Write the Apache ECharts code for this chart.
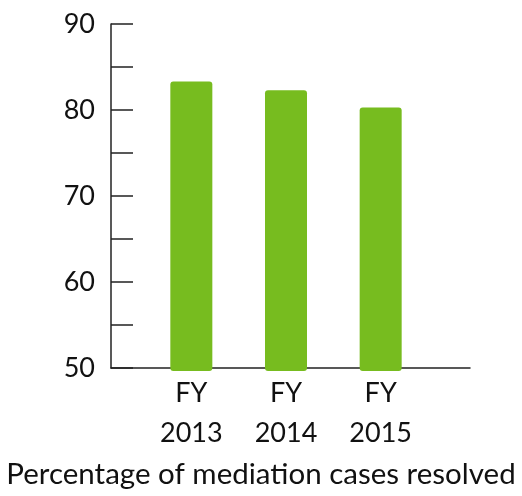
<!DOCTYPE html>
<html>
<head>
	<meta charset="UTF-8">
	<script type="text/javascript" src="https://cdn.jsdelivr.net/npm/echarts@6/dist/echarts.min.js"></script>
	<title></title>
	<style type="text/css">
		body{ margin:0; background:#fff; }
		#chart_box{ width:522px; height:496px; }
	</style>
</head>
<body>
<div id="chart_box"></div>
<script type="text/javascript">
// data
var categories = ['FY\n2013', 'FY\n2014', 'FY\n2015'];
var resolved = [83.3, 82.3, 80.3];
var yTicks = [50, 60, 70, 80, 90];
var titleText = 'Percentage of mediation cases resolved';

var chart = echarts.init(document.getElementById('chart_box'));
var font = 'Lato, "Open Sans", sans-serif';
option = {
	animation: false,
	title: {
		text: titleText,
		left: 'center',
		bottom: 2,
		textStyle: { fontFamily: font, fontSize: 29.5, fontWeight: 'normal', color: '#111' }
	},
	grid: [
		{ left: 111, right: 52, top: 24, bottom: 128 },
		{ left: 144, right: 94, top: 24, bottom: 125 }
	],
	xAxis: [
		{
			type: 'category', gridIndex: 0, data: [''],
			axisLine: { lineStyle: { color: '#222', width: 1.5 } },
			axisTick: { show: false }, axisLabel: { show: false }
		},
		{
			type: 'category', gridIndex: 1, data: categories,
			axisLine: { show: false }, axisTick: { show: false },
			axisLabel: { fontFamily: font, fontSize: 27, color: '#111', lineHeight: 40, margin: 2 }
		}
	],
	yAxis: [
		{
			type: 'value', gridIndex: 0, min: 50, max: 90, interval: 5,
			splitLine: { show: false },
			axisLine: { show: true, lineStyle: { color: '#222', width: 1.5 } },
			axisTick: { show: true, inside: true, length: 22, lineStyle: { color: '#222', width: 1.5 } },
			axisLabel: {
				fontFamily: font, fontSize: 27, color: '#111', margin: 16,
				formatter: function (v) { return yTicks.indexOf(v) >= 0 ? v : ''; }
			}
		},
		{
			type: 'value', gridIndex: 1, min: 49.65, max: 90, show: false
		}
	],
	series: [
		{
			type: 'bar', xAxisIndex: 1, yAxisIndex: 1,
			data: resolved, barWidth: 42,
			itemStyle: { color: '#77bc1f', borderRadius: 3 }
		}
	]
};
chart.setOption(option);
</script>
</body>
</html>
